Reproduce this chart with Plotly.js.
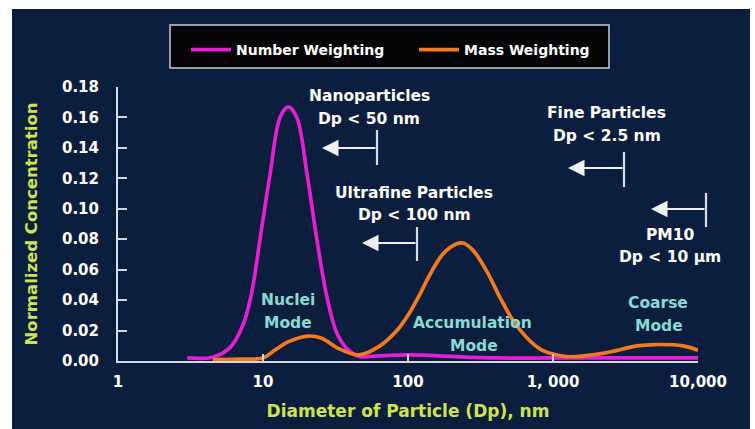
<!DOCTYPE html>
<html>
<head>
<meta charset="utf-8">
<script src="https://cdn.plot.ly/plotly-3.0.1.min.js"></script>
<style>
html,body{margin:0;padding:0;background:#ffffff;width:755px;height:429px;overflow:hidden}
#chart{position:absolute;left:12px;top:9px;width:738px;height:420px}
</style>
</head>
<body>
<div id="chart"></div>
<script>
// ---- data ----
const numberX = [3, 4.5, 5.9, 7.3, 8.4, 9.5, 11.2, 13.1, 14.9, 17.1, 20.1, 23.6, 27.6, 32.4, 38, 46, 60, 80, 100, 130, 200, 400, 1000, 3000, 10000];
const numberY = [0.002, 0.0025, 0.0086, 0.024, 0.046, 0.079, 0.123, 0.160, 0.167, 0.160, 0.123, 0.079, 0.042, 0.018, 0.008, 0.003, 0.0033, 0.0038, 0.004, 0.0038, 0.003, 0.002, 0.002, 0.002, 0.002];
const massX = [4.5, 7, 10, 12.1, 15, 20.5, 25.4, 33, 46, 64, 83.5, 101.6, 121, 142, 175, 217, 240, 282, 349, 431, 532, 658, 813, 1000, 1300, 2200, 3800, 5000, 7900, 10000];
const massY = [0.001, 0.0012, 0.002, 0.0072, 0.0127, 0.0164, 0.0149, 0.0083, 0.004, 0.0099, 0.0198, 0.031, 0.044, 0.057, 0.0705, 0.077, 0.0775, 0.0725, 0.059, 0.0417, 0.0264, 0.0154, 0.0079, 0.0046, 0.0028, 0.005, 0.0099, 0.0108, 0.0099, 0.007];
const seriesNames = ["Number Weighting", "Mass Weighting"];
const xTickVals = [1, 10, 100, 1000, 10000];
const xTickText = ["1", "10", "100", "1, 000", "10,000"];
const yTickVals = [0, 0.02, 0.04, 0.06, 0.08, 0.10, 0.12, 0.14, 0.16, 0.18];
const yTickText = ["0.00", "0.02", "0.04", "0.06", "0.08", "0.10", "0.12", "0.14", "0.16", "0.18"];

// ---- styling ----
const BG = "#0b1e3e";
const AXIS = "#d4d8e2";
const FONT = "DejaVu Sans";
const WHITE = "#ffffff";
const CYAN = "#86dcd6";
const TITLEC = "#d2e24c";

// plot area in page pixels (for decorative annotations only)
const PX0 = 118, PX1 = 698, PY0 = 361, PY1 = 87;
const px = X => (X - PX0) / (PX1 - PX0);
const py = Y => (PY0 - Y) / (PY0 - PY1);

const labels = [
  ["Nanoparticles", 369, 96, WHITE], ["Dp < 50 nm", 369, 119, WHITE],
  ["Ultrafine Particles", 414, 193, WHITE], ["Dp < 100 nm", 414, 215, WHITE],
  ["Fine Particles", 606, 113, WHITE], ["Dp < 2.5 nm", 607, 136, WHITE],
  ["PM10", 670, 235, WHITE], ["Dp < 10 \u03bcm", 670, 257, WHITE],
  ["Nuclei", 288, 300, CYAN], ["Mode", 288, 323, CYAN],
  ["Accumulation", 473, 323, CYAN], ["Mode", 474, 346, CYAN],
  ["Coarse", 658, 303, CYAN], ["Mode", 659, 326, CYAN]
];
// [head X, bar X, arrow Y, bar top, bar bottom]
const arrows = [
  [322, 377, 148, 130, 165],
  [362, 417, 243, 227, 261],
  [568, 624, 168, 152, 187],
  [651, 706, 209, 193, 227]
];

const annotations = labels.map(l => ({
  text: l[0], x: px(l[1]), y: py(l[2]), xref: "paper", yref: "paper",
  xanchor: "center", yanchor: "middle", showarrow: false,
  font: {family: FONT, size: 15.5, color: l[3], weight: "bold"}
}));
arrows.forEach(a => annotations.push({
  text: "", x: px(a[0]), y: py(a[2]), xref: "paper", yref: "paper",
  ax: a[1] - a[0], ay: 0, axref: "pixel", ayref: "pixel",
  showarrow: true, arrowhead: 2, arrowsize: 1.5, arrowwidth: 2.2, arrowcolor: "#eef0f6"
}));
const shapes = arrows.map(a => ({
  type: "line", xref: "paper", yref: "paper",
  x0: px(a[1]), x1: px(a[1]), y0: py(a[3]), y1: py(a[4]),
  line: {color: "#d8dce6", width: 2.2}
}));
// legend frame
shapes.push({
  type: "rect", xref: "paper", yref: "paper", layer: "below",
  x0: px(170), x1: px(609), y0: py(68), y1: py(25),
  fillcolor: "#050507", line: {color: "#c9ccd4", width: 1.5}
});

const traces = [
  {x: numberX, y: numberY, name: seriesNames[0], type: "scatter", mode: "lines",
   line: {color: "#e41fd4", width: 3.7, shape: "spline"}, hoverinfo: "skip"},
  {x: massX, y: massY, name: seriesNames[1], type: "scatter", mode: "lines",
   line: {color: "#f27b1f", width: 3.7, shape: "spline"}, hoverinfo: "skip"}
];

const layout = {
  width: 738, height: 420,
  paper_bgcolor: BG, plot_bgcolor: BG,
  margin: {l: 106, r: 52, t: 78, b: 68},
  font: {family: FONT, color: WHITE, weight: "bold"},
  showlegend: true,
  legend: {
    orientation: "h", x: px(186), xanchor: "left", y: py(34), yanchor: "top",
    bgcolor: "rgba(0,0,0,0)", borderwidth: 0,
    font: {family: FONT, size: 14, color: WHITE, weight: "bold"},
    entrywidth: 173, entrywidthmode: "pixels", itemwidth: 40
  },
  xaxis: {
    type: "log", range: [0, 4],
    tickvals: xTickVals, ticktext: xTickText,
    ticks: "inside", ticklen: 7, tickwidth: 2, tickcolor: AXIS,
    showline: true, linecolor: AXIS, linewidth: 2,
    showgrid: false, zeroline: false, ticklabelstandoff: 6,
    tickfont: {family: FONT, size: 15, color: WHITE, weight: "bold"},
    title: {text: "Diameter of Particle (Dp), nm", standoff: 15,
      font: {family: FONT, size: 17, color: TITLEC, weight: "bold"}}
  },
  yaxis: {
    range: [0, 0.18],
    tickvals: yTickVals, ticktext: yTickText,
    ticks: "inside", ticklen: 9, tickwidth: 2, tickcolor: AXIS,
    showline: true, linecolor: AXIS, linewidth: 2,
    showgrid: false, zeroline: false, ticklabelstandoff: 14,
    tickfont: {family: FONT, size: 15, color: WHITE, weight: "bold"},
    title: {text: "Normalized Concentration", standoff: 20,
      font: {family: FONT, size: 16.5, color: TITLEC, weight: "bold"}}
  },
  annotations: annotations,
  shapes: shapes
};

Plotly.newPlot("chart", traces, layout, {displayModeBar: false, staticPlot: true});
</script>
</body>
</html>
